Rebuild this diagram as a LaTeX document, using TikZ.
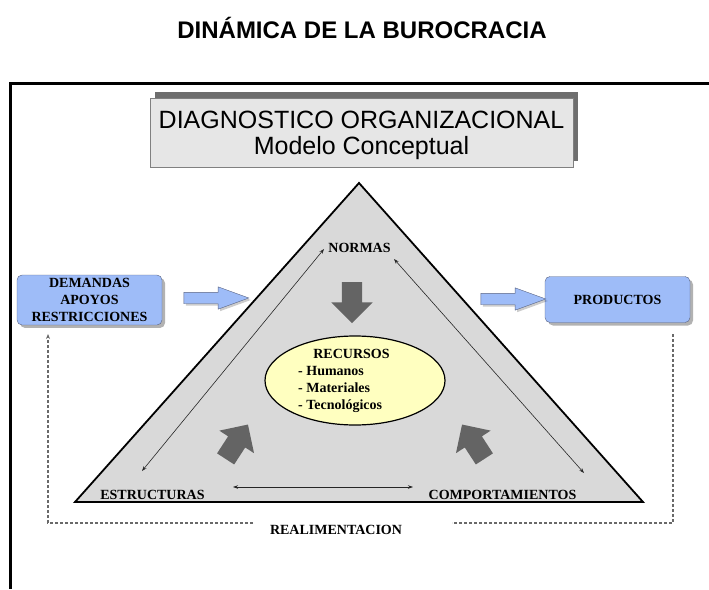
\documentclass[tikz,border=0pt]{standalone}
\usepackage{fontspec}
\setmainfont{Liberation Serif}
\setsansfont{Liberation Sans}
\usetikzlibrary{shapes.geometric,shapes.arrows,shadows,arrows.meta}
\definecolor{boxblue}{RGB}{158,188,248}
\definecolor{boxedge}{RGB}{90,100,130}
\definecolor{trigray}{RGB}{217,217,217}
\definecolor{ellfill}{RGB}{255,255,192}
\definecolor{arrowgray}{RGB}{100,100,100}
\definecolor{titlegray}{RGB}{230,230,230}
\definecolor{shadowgray}{RGB}{110,110,110}
\definecolor{dashgray}{RGB}{105,105,105}

\begin{document}
\begin{tikzpicture}[x=1pt,y=-1pt,
	lbl/.style={font=\fontsize{14}{17}\selectfont\bfseries, inner sep=2pt},
	bluebox/.style={draw=boxedge, fill=boxblue, rounded corners=5pt, minimum width=145pt, minimum height=46pt,
		align=center, text depth=0pt, font=\fontsize{14}{17}\selectfont\bfseries,
		drop shadow={shadow xshift=3pt, shadow yshift=-3pt, fill=black, opacity=.3}},
	bluearrow/.style={single arrow, draw=boxedge, fill=boxblue, minimum height=65pt, minimum width=0pt,
		inner xsep=0pt, inner ysep=5.5pt, single arrow head extend=5.5pt, single arrow tip angle=40,
		drop shadow={shadow xshift=2pt, shadow yshift=-2pt, fill=black, opacity=.2}},
	darkarrow/.style={single arrow, fill=arrowgray, minimum height=41pt, minimum width=0pt,
		inner xsep=0pt, inner ysep=10pt, single arrow head extend=10.5pt},
	thinarrow/.style={{Stealth[length=5pt,width=3.5pt]}-{Stealth[length=5pt,width=3.5pt]}, draw=black!85, line width=0.6pt},
	feedback/.style={draw=dashgray, line width=1.2pt, dash pattern=on 3pt off 2pt}]
\useasboundingbox (0,0) rectangle (709,589);

% titulo y marco
\node[font=\sffamily\bfseries\fontsize{24}{28}\selectfont, anchor=base] (titulo) at (362,38) {DINÁMICA DE LA BUROCRACIA};
\draw[line width=3pt] (709,83.5) -| (10.5,589);

\node[draw=gray, fill=titlegray, line width=0.8pt, minimum width=423pt, minimum height=69pt, align=center, text depth=0pt,
	font=\sffamily\fontsize{25}{25.7}\selectfont,
	drop shadow={shadow xshift=5pt, shadow yshift=6pt, fill=shadowgray, opacity=1}]
	(diag) at (361.5,132.5) {DIAGNOSTICO ORGANIZACIONAL\\Modelo Conceptual};

% triangulo
\coordinate (apex) at (359,183);
\coordinate (bl) at (75,502);
\coordinate (br) at (643,502);
\draw[fill=trigray, line width=1.8pt] (apex) -- (bl) -- (br) -- cycle;

\node[lbl, anchor=base] (normas) at (359.5,252) {NORMAS};
\node[lbl, anchor=base] (estructuras) at (152.5,499) {ESTRUCTURAS};
\node[lbl, anchor=base] (comportamientos) at (502.5,499) {COMPORTAMIENTOS};

\coordinate (nL) at (324,249);
\coordinate (eN) at (142,471);
\coordinate (nR) at (394,259);
\coordinate (cN) at (584,473);
\coordinate (eE) at (233,487);
\coordinate (cW) at (413,487);
\draw[thinarrow] (eN) -- (nL);
\draw[thinarrow] (nR) -- (cN);
\draw[thinarrow] (eE) -- (cW);

% recursos
\node[ellipse, draw, line width=1.2pt, fill=ellfill, minimum width=180pt, minimum height=89pt] (recursos) at (355,380.5) {};
\node[lbl, anchor=base] (rectit) at (351.5,358) {RECURSOS};
\foreach \t [count=\i] in {Humanos, Materiales, Tecnológicos}
	\node[lbl, anchor=base west, inner sep=0pt] (rec\i) at (298,358+17*\i) {- \t};

\node[darkarrow, rotate=-90] (arrN) at (352,297.5) {};
\node[darkarrow, rotate=57] (arrE) at (234,446) {};
\node[darkarrow, rotate=123] (arrC) at (476,446) {};

% entradas y salidas
\node[bluebox] (demandas) at (89.5,300) {DEMANDAS\\APOYOS\\RESTRICCIONES};
\node[bluebox] (productos) at (617.5,299.5) {PRODUCTOS};
\node[bluearrow] (inL) at (208.5,298) {};
\node[bluearrow] (outR) at (505.5,299) {};

% realimentacion
\node[lbl, anchor=base] (realim) at (336,534) {REALIMENTACION};
\coordinate (fbA) at (673,334);
\coordinate (fbB) at (673,523);
\coordinate (fbC) at (452,523);
\coordinate (fbD) at (253,523);
\coordinate (fbE) at (48,523);
\coordinate (fbF) at (48,334);
\draw[feedback] (fbA) -- (fbB) -- (fbC);
\draw[feedback, -{Stealth[length=5pt,width=4pt]}] (fbD) -- (fbE) -- (fbF);
\end{tikzpicture}
\end{document}
